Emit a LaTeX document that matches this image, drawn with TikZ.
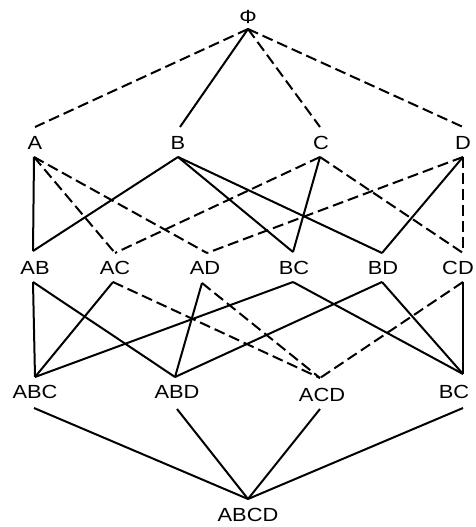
\documentclass[tikz,border=0pt]{standalone}
\usepackage{fontspec}
\setmainfont{Liberation Sans}[FakeStretch=1.15]
\begin{document}
\begin{tikzpicture}[x=1pt,y=-1pt,
  sol/.style={line width=2pt},
  dsh/.style={line width=2pt, dash pattern=on 11pt off 5pt},
  lbl/.style={inner sep=0pt, font=\fontsize{19}{19}\selectfont}]
\useasboundingbox (0,0) rectangle (475,527);
% labels
\node[lbl] (P)   at (248,17)  {Φ};
\node[lbl] (A)   at (35,143)  {A};
\node[lbl] (B)   at (178,143) {B};
\node[lbl] (C)   at (321,143) {C};
\node[lbl] (D)   at (463,143) {D};
\node[lbl] (AB)  at (35,268)  {AB};
\node[lbl] (AC)  at (115,268) {AC};
\node[lbl] (AD)  at (205,268) {AD};
\node[lbl] (BC)  at (294,268) {BC};
\node[lbl] (BD)  at (383,268) {BD};
\node[lbl] (CD)  at (458,268) {CD};
\node[lbl] (ABC) at (35,392)  {ABC};
\node[lbl] (ABD) at (177,392) {ABD};
\node[lbl] (ACD) at (322,395) {ACD};
\node[lbl] (BCD) at (454,392) {BC};
\node[lbl] (ABCD) at (248,515) {ABCD};
% connection points
\coordinate (Pb) at (248,29);
\coordinate (At) at (35,127);  \coordinate (Ab) at (34,157);
\coordinate (Bt) at (180,127); \coordinate (Bb) at (178,157);
\coordinate (Ct) at (320,127); \coordinate (Cb) at (320,157);
\coordinate (Dt) at (463,127); \coordinate (Db) at (463,157);
\coordinate (ABt) at (33,251);  \coordinate (ABb) at (33,282);
\coordinate (ACt) at (115,253); \coordinate (ACb) at (113,282);
\coordinate (ADt) at (207,253); \coordinate (ADb) at (202,283);
\coordinate (BCt) at (293,252); \coordinate (BCb) at (293,282);
\coordinate (BDt) at (382,253); \coordinate (BDb) at (382,282);
\coordinate (CDt) at (463,253); \coordinate (CDb) at (463,282);
\coordinate (ABCt) at (35,377);  \coordinate (ABCb) at (34,408);
\coordinate (ABDt) at (175,377); \coordinate (ABDb) at (177,409);
\coordinate (ACDt) at (320,378); \coordinate (ACDb) at (320,409);
\coordinate (BCDt) at (463,374); \coordinate (BCDb) at (463,408);
\coordinate (ABCDt) at (248,499);
% level 0 -> 1
\draw[dsh] (Pb) -- (At);
\draw[sol] (Pb) -- (Bt);
\draw[dsh] (Pb) -- (Ct);
\draw[dsh] (Pb) -- (Dt);
% level 1 -> 2
\draw[sol] (Ab) -- (ABt);
\draw[dsh] (Ab) -- (ACt);
\draw[dsh] (Ab) -- (ADt);
\draw[sol] (Bb) -- (ABt);
\draw[sol] (Bb) -- (BCt);
\draw[sol] (Bb) -- (BDt);
\draw[dsh] (Cb) -- (ACt);
\draw[sol] (Cb) -- (BCt);
\draw[dsh] (Cb) -- (CDt);
\draw[dsh] (Db) -- (ADt);
\draw[sol] (Db) -- (BDt);
\draw[dsh] (Db) -- (CDt);
% level 2 -> 3
\draw[sol] (ABb) -- (ABCt);
\draw[sol] (ACb) -- (ABCt);
\draw[sol] (BCb) -- (ABCt);
\draw[sol] (ABb) -- (ABDt);
\draw[sol] (ADb) -- (ABDt);
\draw[sol] (BDb) -- (ABDt);
\draw[dsh] (ACb) -- (ACDt);
\draw[dsh] (ADb) -- (ACDt);
\draw[dsh] (CDb) -- (ACDt);
\draw[sol] (BCb) -- (BCDt);
\draw[sol] (BDb) -- (BCDt);
\draw[sol] (CDb) -- (BCDt);
% level 3 -> 4
\draw[sol] (ABCb) -- (ABCDt);
\draw[sol] (ABDb) -- (ABCDt);
\draw[sol] (ACDb) -- (ABCDt);
\draw[sol] (BCDb) -- (ABCDt);
\end{tikzpicture}
\end{document}
